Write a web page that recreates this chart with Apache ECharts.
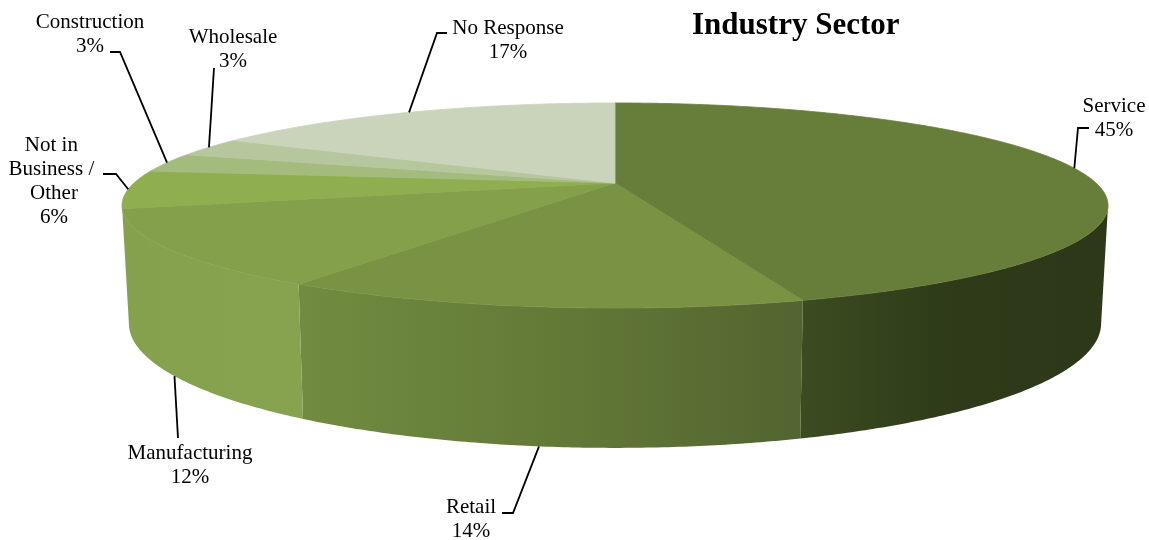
<!DOCTYPE html>
<html>
<head>
<meta charset="utf-8">
<script src="https://cdn.jsdelivr.net/npm/echarts@6/dist/echarts.min.js"></script>
<style>
  html, body { margin: 0; padding: 0; background: #fff; }
  #chart { width: 1149px; height: 540px; }
</style>
</head>
<body>
<div id="chart"></div>
<script>
// Survey responses by industry sector (percent of respondents)
const categories = ['Service', 'Retail', 'Manufacturing', 'Not in Business / Other', 'Construction', 'Wholesale', 'No Response'];
const shares = [45, 14, 12, 6, 3, 3, 17];

// Slice styling
const topColors = ['#677d3a', '#7a9244', '#85a04b', '#8fae50', '#a5bb7e', '#b7c79d', '#c9d4ba'];
const wallColors = [
  ['#3c4c21', '#2e3a18', '#2c3817'],
  ['#718c40', '#637a37', '#526430'],
  ['#86a14d', '#87a24e', '#88a34f'],
  ['#8cab50', '#8cab50', '#8cab50']
];

// Label placement: block centre x, first-line centre y, leader start and elbow
const labelLayout = [
  { x: 1114, y: 106, from: [1089, 128], elbow: [1078, 128] },
  { x: 471, y: 507, from: [502, 513], elbow: [513, 513] },
  { x: 190, y: 453, from: [178, 438], elbow: [178, 438] },
  { x: 54, y: 145, from: [103, 174], elbow: [116, 174], width: 95 },
  { x: 90, y: 22, from: [110, 52], elbow: [120, 52] },
  { x: 233, y: 37, from: [214, 68], elbow: [214, 68] },
  { x: 508, y: 28, from: [447, 33], elbow: [437, 33] }
];

// Projected disc geometry (perspective tilt)
const geo = { cx: 615, cy: 183, rx: 481, ry: 97.6, tilt: 0.2195, depth: 113, depthExp: 0.86, baseShrink: 0.986 };
const LINE_H = 24;
const FONT = '21px "Liberation Serif", "Times New Roman", serif';

function rim(theta) {
  const s = Math.sin(theta), c = Math.cos(theta);
  const k = 1 / (1 + geo.tilt * c);
  return { x: geo.cx + geo.rx * s * k, y: geo.cy - geo.ry * c * k, k: k };
}
function base(theta) {
  const p = rim(theta);
  return [geo.cx + (p.x - geo.cx) * geo.baseShrink, p.y + geo.depth * Math.pow(p.k, geo.depthExp)];
}
function arc(t0, t1, fn) {
  const pts = [];
  const n = Math.max(2, Math.ceil(Math.abs(t1 - t0) / (Math.PI / 360)));
  for (let i = 0; i <= n; i++) {
    const t = t0 + (t1 - t0) * i / n;
    pts.push(fn(t));
  }
  return pts;
}

const total = shares.reduce((s, v) => s + v, 0);
const cumulative = [];
shares.reduce((acc, v) => { cumulative.push(acc); return acc + v; }, 0);

const wallFrom = Math.acos(-geo.tilt);
const wallTo = 2 * Math.PI - wallFrom;

function renderSlice(params, api) {
  const i = params.dataIndex;
  const value = api.value(0);
  const t0 = cumulative[i] / total * 2 * Math.PI;
  const t1 = (cumulative[i] + value) / total * 2 * Math.PI;
  const children = [];

  // side wall on the visible front half
  const w0 = Math.max(t0, wallFrom), w1 = Math.min(t1, wallTo);
  if (w1 > w0) {
    const topEdge = arc(w0, w1, t => { const p = rim(t); return [p.x, p.y]; });
    const bottomEdge = arc(w1, w0, base);
    const wc = wallColors[Math.min(i, wallColors.length - 1)];
    children.push({
      type: 'polygon',
      shape: { points: topEdge.concat(bottomEdge) },
      style: {
        fill: new echarts.graphic.LinearGradient(0, 0, 1, 0, [
          { offset: 0, color: wc[0] }, { offset: 0.5, color: wc[1] }, { offset: 1, color: wc[2] }
        ]),
        stroke: null
      }
    });
  }

  // top face
  const face = [[geo.cx, geo.cy]].concat(arc(t0, t1, t => { const p = rim(t); return [p.x, p.y]; }));
  children.push({
    type: 'polygon',
    shape: { points: face },
    style: { fill: topColors[i], stroke: topColors[i], lineWidth: 0.8, lineJoin: 'round' }
  });

  // leader line, anchored on the rim (or the base for front slices)
  const mid = (t0 + t1) / 2;
  let anchor;
  if (Math.cos(mid) < -geo.tilt) {
    anchor = base(mid);
  } else {
    const p = rim(mid); anchor = [p.x, p.y];
  }
  const lay = labelLayout[i];
  children.push({
    type: 'polyline',
    shape: { points: [lay.from, lay.elbow, anchor] },
    style: { stroke: '#000', lineWidth: 1.8, fill: null },
    z2: 10
  });

  const pct = Math.round(value / total * 100) + '%';
  const textStyle = {
    text: categories[i] + '\n' + pct,
    x: lay.x,
    y: lay.y - LINE_H / 2,
    fill: '#000',
    font: FONT,
    align: 'center',
    verticalAlign: 'top',
    lineHeight: LINE_H
  };
  if (lay.width) { textStyle.width = lay.width; textStyle.overflow = 'break'; }
  children.push({ type: 'text', style: textStyle, z2: 10 });

  return { type: 'group', children: children };
}

const chart = echarts.init(document.getElementById('chart'), null, { renderer: 'canvas' });
chart.setOption({
  animation: false,
  backgroundColor: '#fff',
  title: {
    text: 'Industry Sector',
    left: 692,
    top: 10,
    padding: 0,
    textStyle: { fontFamily: '"Liberation Serif", "Times New Roman", serif', fontSize: 31, fontWeight: 'bold', color: '#000' }
  },
  series: [{
    type: 'custom',
    coordinateSystem: 'none',
    renderItem: renderSlice,
    data: shares.map(v => [v])
  }]
});
</script>
</body>
</html>
